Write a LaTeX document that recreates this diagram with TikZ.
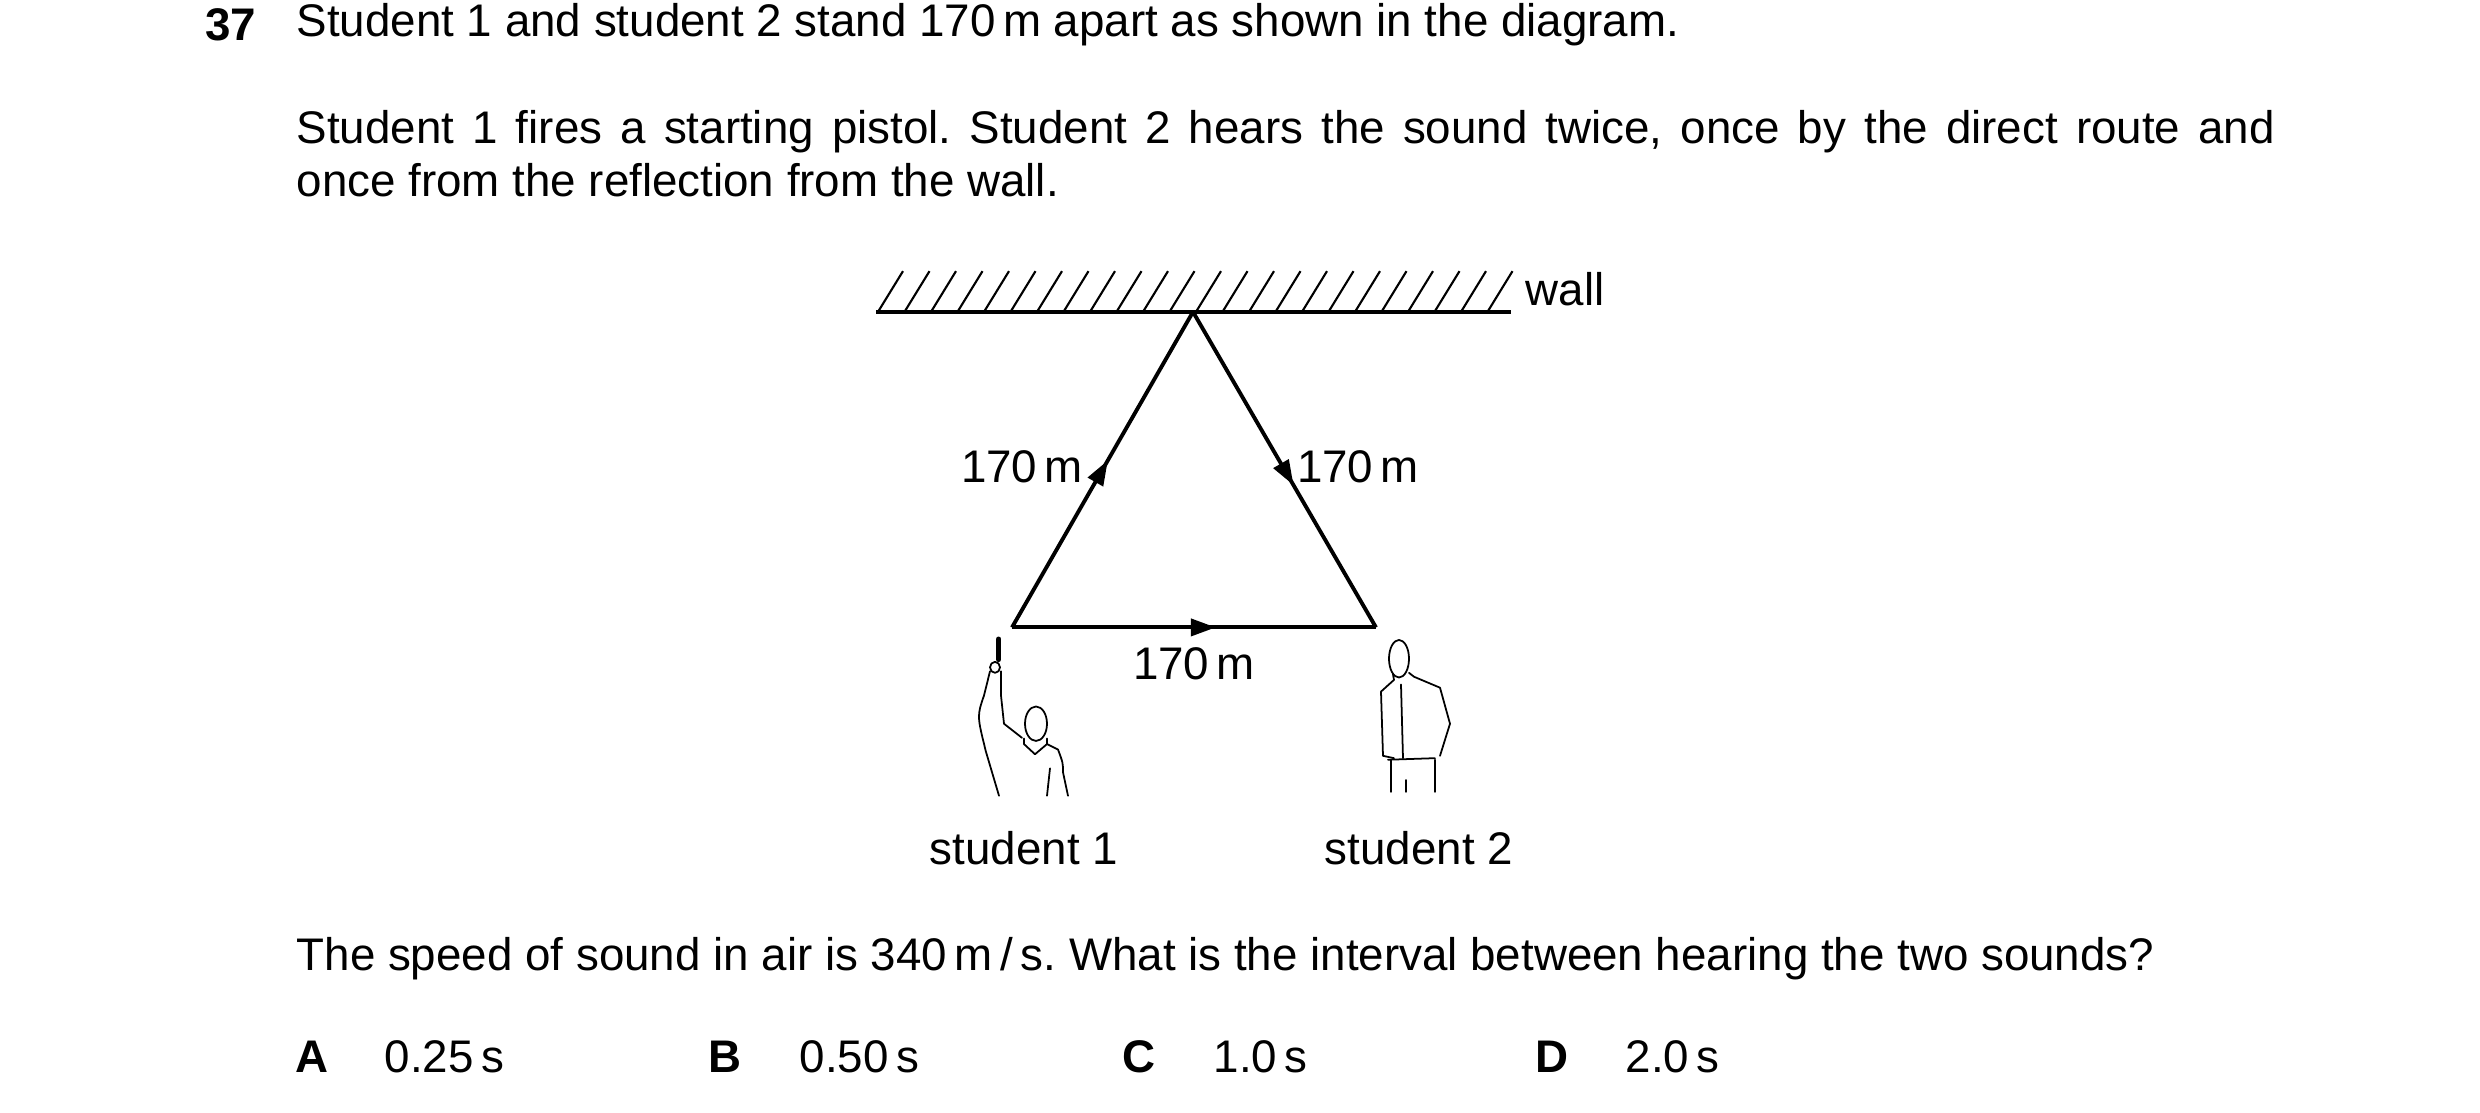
\documentclass[tikz,border=0pt]{standalone}
\usepackage{fontspec}
\setmainfont{Liberation Sans}
\usetikzlibrary{positioning,arrows.meta,decorations.markings}
\frenchspacing
\begin{document}
\begin{tikzpicture}
		[x=0.01cm,y=-0.01cm,
		textstyle/.style={inner sep=0pt,font=\fontsize{13}{15}\selectfont},
		figure/.style={line width=0.5pt,line cap=round,line join=round},
		midarrow/.style={postaction={decorate,decoration={markings,
			mark=at position #1 with {\arrow{Triangle[length=0.25cm,width=0.17cm]}}}}},
		pathstyle/.style={line width=1.1pt,line join=miter}]
		\useasboundingbox (0,0) rectangle (2480,1113);
		% question text
		\node at (231,25) (num) [textstyle,font=\fontsize{13}{15}\selectfont\bfseries] {37};
		\node at (296,25) (line1) [textstyle,anchor=west] {Student 1 and student 2 stand 170\,m apart as shown in the diagram.};
		\node at (296,110) (para) [textstyle,anchor=north west,text width=19.77cm,align=justify] {Student 1 fires a starting pistol. Student 2 hears the sound twice, once by the direct route and\linebreak once from the reflection from the wall.};
		\begin{scope}[yscale=0.783,shift={(0,69.3)}]
		% wall
		\coordinate (wl) at (876,329);
		\coordinate (wr) at (1511,329);
		\draw[line width=1.1pt] (wl) -- (wr);
		\foreach \x in {0,...,23}
			\draw[line width=0.6pt] (878+26.5*\x,329) -- ++(25,-52);
		\node at (1565,300) (wall) [textstyle] {wall};
		% sound paths
		\coordinate (top) at (1193,329);
		\coordinate (s1) at (1012,732);
		\coordinate (s2) at (1376,732);
		\draw[pathstyle,midarrow=0.53] (s1) -- (top);
		\draw[pathstyle,midarrow=0.55] (top) -- (s2);
		\draw[pathstyle,midarrow=0.56] (s1) -- (s2);
		\node at (1022,527) (lab1) [textstyle] {170\,m};
		\node at (1358,527) (lab2) [textstyle] {170\,m};
		\node at (1194,778) (lab3) [textstyle] {170\,m};
		% student 1
		\draw[figure,line width=1.5pt] (998.7,747) -- (998.7,773);
		\draw[figure] (995,783) ellipse [x radius=5,y radius=7];
		\draw[figure] (990,788) -- (984,819) .. controls (977,845) .. (986,891) -- (999,947);
		\draw[figure] (1001,788) -- (1001,819) -- (1004,855) -- (1022,873);
		\draw[figure] (1036,855) ellipse [x radius=11,y radius=22];
		\draw[figure] (1024,874) -- (1024,881) -- (1035,894) -- (1047,881) -- (1047,874);
		\draw[figure] (1047,881) -- (1058,888) .. controls (1063,905) .. (1063,917) -- (1068,947);
		\draw[figure] (1050,912) -- (1047,947);
		\node at (1024,1014) (st1) [textstyle] {student 1};
		% student 2
		\draw[figure] (1399,772) ellipse [x radius=10,y radius=24];
		\draw[figure] (1393,792) -- (1394,799) -- (1381,814) -- (1383,896) -- (1394,899);
		\draw[figure] (1409,790) -- (1414,795) -- (1440,809) -- (1450,855) -- (1440,896);
		\draw[figure] (1388,901) -- (1435,899);
		\draw[figure] (1401,805) -- (1403,899);
		\draw[figure] (1391,901) -- (1391,942);
		\draw[figure] (1435,901) -- (1435,942);
		\draw[figure] (1406,927) -- (1406,942);
		\node at (1419,1014) (st2) [textstyle] {student 2};
		\end{scope}
		% question and answers
		\node at (296,959) (ask) [textstyle,anchor=west] {The speed of sound in air is 340\,m\,/\,s. What is the interval between hearing the two sounds?};
		\node at (312,1057) (ka) [textstyle,font=\fontsize{13}{15}\selectfont\bfseries] {A};
		\node at (384,1057) (va) [textstyle,anchor=west] {0.25\,s};
		\node at (725,1057) (kb) [textstyle,font=\fontsize{13}{15}\selectfont\bfseries] {B};
		\node at (799,1057) (vb) [textstyle,anchor=west] {0.50\,s};
		\node at (1139,1057) (kc) [textstyle,font=\fontsize{13}{15}\selectfont\bfseries] {C};
		\node at (1213,1057) (vc) [textstyle,anchor=west] {1.0\,s};
		\node at (1552,1057) (kd) [textstyle,font=\fontsize{13}{15}\selectfont\bfseries] {D};
		\node at (1625,1057) (vd) [textstyle,anchor=west] {2.0\,s};
	\end{tikzpicture}
\end{document}
